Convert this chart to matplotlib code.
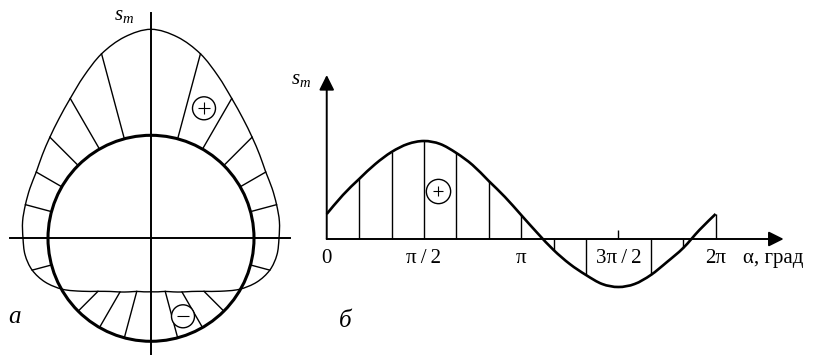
import numpy as np
import matplotlib
matplotlib.use('Agg')
import matplotlib.pyplot as plt
from matplotlib.patches import Circle, PathPatch
from matplotlib.path import Path

plt.rcParams['font.family'] = ['Liberation Serif', 'DejaVu Serif']
plt.rcParams['mathtext.fontset'] = 'custom'
plt.rcParams['mathtext.it'] = 'Liberation Serif:italic'
plt.rcParams['mathtext.rm'] = 'Liberation Serif'

# --- panel a: polar diagram around the circle ---
ring_radius = 103
outer_deg = np.arange(0, 360, 7.5)
outer_r = [128, 129.5, 130, 131, 132.5, 137, 143, 151, 161.5, 175.5, 191, 203,
           209, 203, 191, 175.5, 161.5, 151, 143, 137, 132.5, 131, 130, 129.5,
           128, 127, 123, 114.5, 102, 87, 75, 67, 62, 58, 55, 54,
           53.5, 54, 55, 58, 62, 67, 75, 87, 102, 114.5, 123, 127]
hatch_a_deg = [15, 30, 45, 60, 75, 105, 120, 135, 150, 165, 195,
               225, 240, 255, 285, 300, 315, 345]
plus_a = (53, 130)
minus_a = (32, -78)

# --- panel b: s_m against alpha ---
alpha_deg = np.arange(0, 361, 15)
s_vals = [25, 44, 60, 75, 87, 95, 98, 95, 86, 74, 58, 42, 24,
          6, -11, -25, -36, -45, -48, -45, -36, -23, -9, 9, 25]
hatch_b_deg = [30, 60, 90, 120, 150, 180, 210, 240, 300, 330, 360]
tick_pos = [0, 90, 180, 270, 360]
tick_labels = ['0', 'π\u2009/\u20092', 'π', '3π\u2009/\u20092', '2π']
plus_b = (103, 48)


def smooth_path(x, y, closed=False):
    """Catmull-Rom through the points, drawn as cubic Bezier segments."""
    pts = np.column_stack([x, y]).astype(float)
    n = len(pts)
    if closed:
        get = lambda i: pts[i % n]
        segs = n
    else:
        get = lambda i: pts[min(max(i, 0), n - 1)]
        segs = n - 1
    verts = [pts[0]]
    codes = [Path.MOVETO]
    for i in range(segs):
        p0, p1, p2, p3 = get(i - 1), get(i), get(i + 1), get(i + 2)
        verts += [p1 + (p2 - p0) / 6, p2 - (p3 - p1) / 6, p2]
        codes += [Path.CURVE4] * 3
    return Path(verts, codes)


fig = plt.figure(figsize=(8.15, 3.55), dpi=100)

# left panel
axL = fig.add_axes([0, 0, 300 / 815, 1])
axL.set_xlim(-151, 149)
axL.set_ylim(-116.7, 238.3)
axL.axis('off')

th = np.deg2rad(outer_deg)
rr = np.asarray(outer_r)
axL.add_patch(PathPatch(smooth_path(rr * np.cos(th), rr * np.sin(th), closed=True),
                        fill=False, ec='k', lw=1.0, zorder=3))

r_lookup = dict(zip(outer_deg, outer_r))
for d in hatch_a_deg:
    t = np.deg2rad(d)
    r = r_lookup[d]
    axL.plot([ring_radius * np.cos(t), r * np.cos(t)],
             [ring_radius * np.sin(t), r * np.sin(t)], color='k', lw=1.0, zorder=2)

axL.plot([-141, 139], [0, 0], color='k', lw=1.4, zorder=2)
axL.plot([0, 0], [-117, 225], color='k', lw=1.4, zorder=2)
axL.add_patch(Circle((0, 0), ring_radius, fill=False, ec='k', lw=2.2, zorder=4))

for (cx, cy), mk in ((plus_a, '+'), (minus_a, '_')):
    axL.add_patch(Circle((cx, cy), 11.5, fc='white', ec='k', lw=1.0, zorder=5))
    axL.plot(cx, cy, marker=mk, ms=8.5, mew=0.8, color='k', zorder=6)

axL.text(-37, 218.3, '$s_m$', fontsize=15, ha='left', va='baseline')
axL.text(-143, -84.7, '$a$', fontsize=18, ha='left', va='baseline')

# right panel
axR = fig.add_axes([290 / 815, 0, 525 / 815, 1])
axR.set_xlim(-34, 452)
axR.set_ylim(-116, 239)
axR.axis('off')

arrow = dict(arrowstyle='-|>,head_length=0.6,head_width=0.3', color='k',
             lw=1.4, shrinkA=0, shrinkB=0, mutation_scale=15)
axR.annotate('', xy=(423, 0), xytext=(0, 0), arrowprops=arrow)
axR.annotate('', xy=(0, 164), xytext=(0, 0), arrowprops=arrow)

s_lookup = dict(zip(alpha_deg, s_vals))
axR.vlines(hatch_b_deg, 0, [s_lookup[d] for d in hatch_b_deg],
           color='k', lw=1.0, zorder=2)
axR.vlines([270], 0, 9, color='k', lw=1.0)
axR.add_patch(PathPatch(smooth_path(alpha_deg, s_vals), fill=False,
                        ec='k', lw=1.9, zorder=3))

axR.plot(*plus_b, marker='o', ms=17.5, mfc='white', mec='k', mew=1.0, zorder=5)
axR.plot(*plus_b, marker='+', ms=7.5, mew=0.8, color='k', zorder=6)

for x, lab in zip(tick_pos, tick_labels):
    axR.text(x, -24, lab, fontsize=15, ha='center', va='baseline')
axR.text(385, -24, 'α, град', fontsize=15, ha='left', va='baseline')
axR.text(-33, 155, '$s_m$', fontsize=15, ha='left', va='baseline')
axR.text(10, -87.7, '$б$', fontsize=18, ha='left', va='baseline')

fig.savefig('out.png', dpi=100)
